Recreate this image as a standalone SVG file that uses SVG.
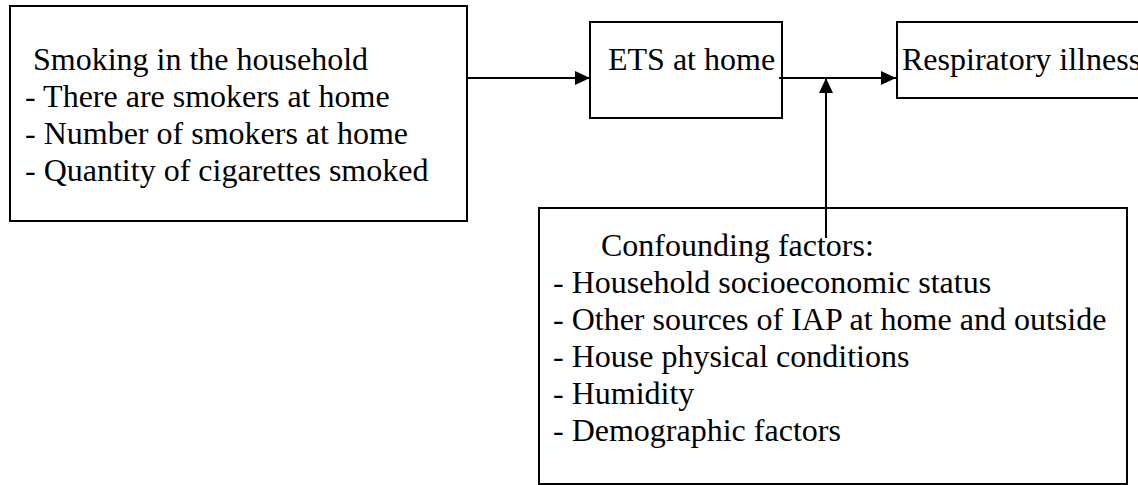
<svg xmlns="http://www.w3.org/2000/svg" width="1138" height="485" viewBox="0 0 1138 485">
<style>
.box{fill:#fff;stroke:#000;stroke-width:2}
.t{font-family:'Liberation Serif','Times New Roman',Times,serif;font-size:32px;fill:#000}
.c{stroke:#000;stroke-width:2;fill:none}
</style>
<defs>
<marker id="ah" viewBox="0 0 15 14" refX="15" refY="7" markerWidth="15" markerHeight="14" markerUnits="userSpaceOnUse" orient="auto">
<polygon points="0,0 15,7 0,14" fill="#000"/>
</marker>
</defs>
<rect width="1138" height="485" fill="#fff"/>
<g id="smoking">
<rect class="box" x="10" y="6" width="457" height="215"/>
<text class="t" x="33" y="70">Smoking in the household</text>
<text class="t" x="25" y="107">- There are smokers at home</text>
<text class="t" x="25" y="144">- Number of smokers at home</text>
<text class="t" x="25" y="181">- Quantity of cigarettes smoked</text>
</g>
<g id="ets">
<rect class="box" x="590" y="22" width="192" height="96"/>
<text class="t" x="608" y="70">ETS at home</text>
</g>
<g id="respiratory">
<rect class="box" x="897" y="22" width="260" height="76"/>
<text class="t" x="902" y="70">Respiratory illness</text>
</g>
<g id="confounding">
<rect class="box" x="539" y="208" width="588" height="276"/>
<text class="t" x="601" y="256">Confounding factors:</text>
<text class="t" x="553" y="293">- Household socioeconomic status</text>
<text class="t" x="553" y="330">- Other sources of IAP at home and outside</text>
<text class="t" x="553" y="367">- House physical conditions</text>
<text class="t" x="553" y="404">- Humidity</text>
<text class="t" x="553" y="441">- Demographic factors</text>
</g>
<g id="connectors">
<line class="c" x1="467" y1="78" x2="590" y2="78" marker-end="url(#ah)"/>
<line class="c" x1="779" y1="78" x2="896" y2="78" marker-end="url(#ah)"/>
<line class="c" x1="826" y1="238" x2="826" y2="78" marker-end="url(#ah)"/>
</g>
</svg>
